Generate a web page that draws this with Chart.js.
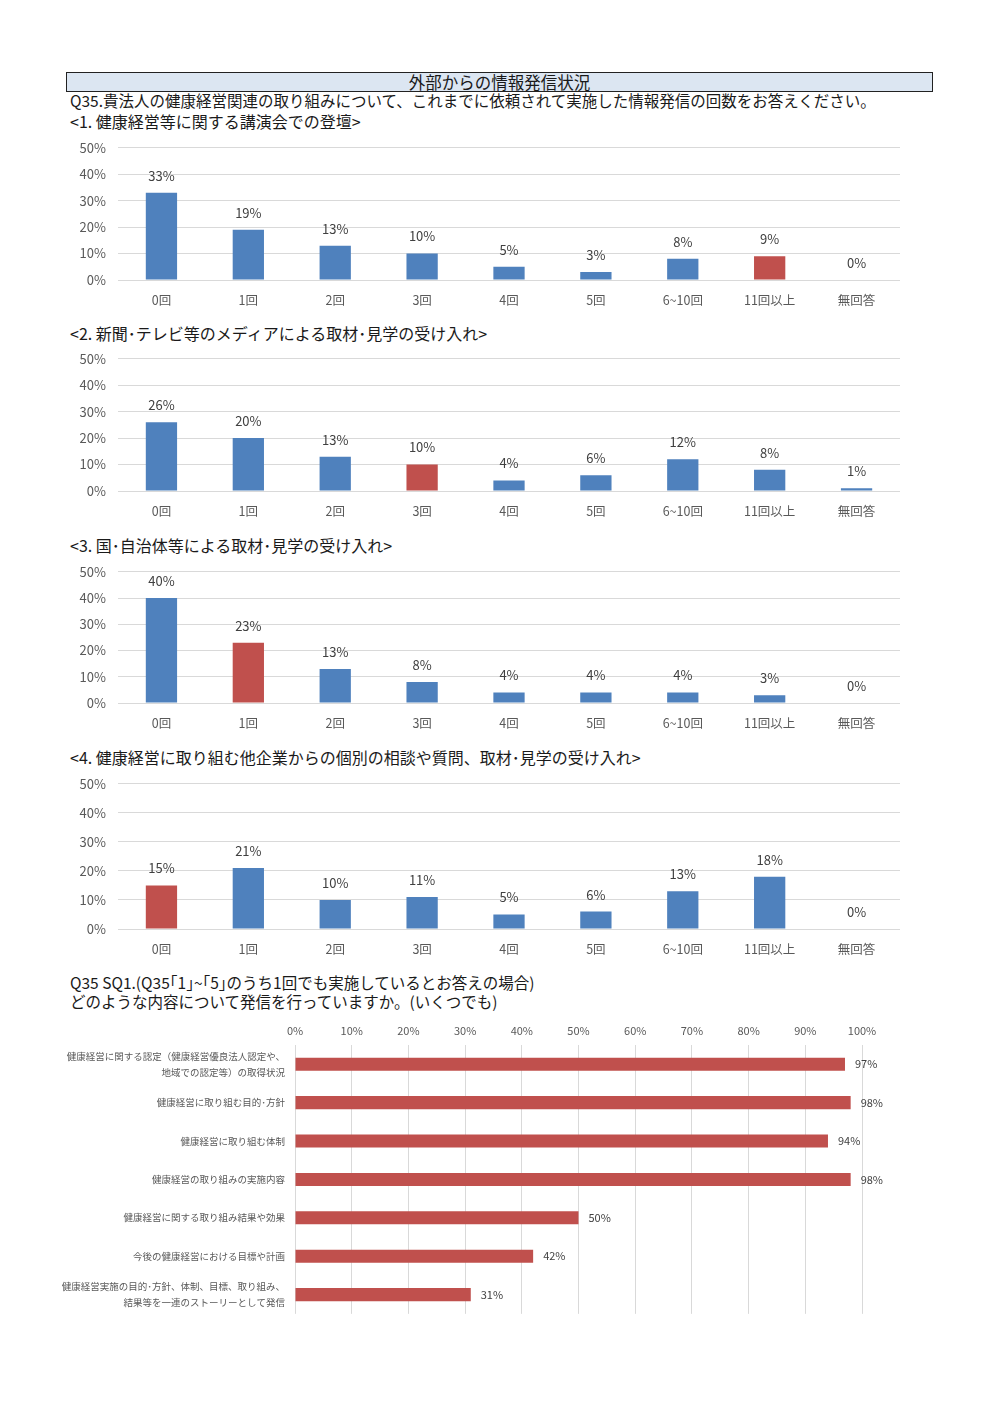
<!DOCTYPE html>
<html>
<head>
<meta charset="utf-8">
<script src="https://cdn.jsdelivr.net/npm/chart.js@4"></script>
<style>
  body { margin: 0; background: #fff; width: 1000px; height: 1414px; position: relative;
         font-family: "Noto Sans CJK JP", "Noto Sans", sans-serif; color: #1a1a1a; }
  .t { position: absolute; white-space: nowrap; line-height: 1; }
  canvas { position: absolute; }
  #head { position: absolute; left: 66px; top: 72px; width: 865px; height: 18px;
          border: 1px solid #222; background: #dce6f2; text-align: center;
          font-size: 16.5px; line-height: 18px; }
</style>
</head>
<body>
<div id="head">外部からの情報発信状況</div>
<div class="t" style="left:70px;top:93px;font-size:15.5px">Q35.貴法人の健康経営関連の取り組みについて、これまでに依頼されて実施した情報発信の回数をお答えください。</div>
<div class="t" style="left:70px;top:113px;font-size:16px">&lt;1. 健康経営等に関する講演会での登壇&gt;</div>
<canvas id="c1" width="850" height="182" style="left:60px;top:128px"></canvas>
<div class="t" style="left:70px;top:325px;font-size:16px">&lt;2. 新聞･テレビ等のメディアによる取材･見学の受け入れ&gt;</div>
<canvas id="c2" width="850" height="182" style="left:60px;top:339px"></canvas>
<div class="t" style="left:70px;top:537px;font-size:16px">&lt;3. 国･自治体等による取材･見学の受け入れ&gt;</div>
<canvas id="c3" width="850" height="181" style="left:60px;top:552px"></canvas>
<div class="t" style="left:70px;top:749px;font-size:16px">&lt;4. 健康経営に取り組む他企業からの個別の相談や質問、取材･見学の受け入れ&gt;</div>
<canvas id="c4" width="850" height="195" style="left:60px;top:764px"></canvas>
<div class="t" style="left:70px;top:975px;font-size:15.5px">Q35 SQ1.(Q35｢1｣~｢5｣のうち1回でも実施しているとお答えの場合)</div>
<div class="t" style="left:70px;top:994px;font-size:15.5px">どのような内容について発信を行っていますか。(いくつでも)</div>
<canvas id="c5" width="842" height="322" style="left:60px;top:1018px"></canvas>
<script>
const countLabels = ["0回", "1回", "2回", "3回", "4回", "5回", "6~10回", "11回以上", "無回答"];
const lectureValues = [33, 19, 13, 10, 5, 3, 8, 9, 0];
const mediaValues = [26, 20, 13, 10, 4, 6, 12, 8, 1];
const govValues = [40, 23, 13, 8, 4, 4, 4, 3, 0];
const peerValues = [15, 21, 10, 11, 5, 6, 13, 18, 0];
// index of the bar drawn in red in each chart
const highlightIndex = [7, 3, 1, 0];

const contentLabels = [
  ["健康経営に関する認定（健康経営優良法人認定や、", "地域での認定等）の取得状況"],
  "健康経営に取り組む目的･方針",
  "健康経営に取り組む体制",
  "健康経営の取り組みの実施内容",
  "健康経営に関する取り組み結果や効果",
  "今後の健康経営における目標や計画",
  ["健康経営実施の目的･方針、体制、目標、取り組み、", "結果等を一連のストーリーとして発信"]
];
const contentValues = [97, 98, 94, 98, 50, 42, 31];

const BLUE = "#4f81bd";
const RED = "#c0504d";
const GRID = "#d9d9d9";
const TICK = "#595959";
const FONT = '"Noto Sans CJK JP", "Noto Sans", sans-serif';

const valueLabels = {
  id: "valueLabels",
  afterDatasetsDraw(chart) {
    const ctx = chart.ctx;
    const meta = chart.getDatasetMeta(0);
    const horiz = chart.options.indexAxis === "y";
    ctx.save();
    ctx.fillStyle = "#404040";
    ctx.font = (horiz ? "11px " : "13px ") + FONT;
    ctx.textBaseline = "middle";
    meta.data.forEach((bar, i) => {
      const text = Math.round(chart.data.datasets[0].data[i]) + "%";
      if (horiz) {
        ctx.textAlign = "left";
        ctx.fillText(text, bar.x + 10, bar.y);
      } else {
        ctx.textAlign = "center";
        ctx.fillText(text, bar.x, bar.y - 17);
      }
    });
    ctx.restore();
  }
};

const countChart = (id, values, hi) => {
  new Chart(document.getElementById(id), {
    type: "bar",
    data: {
      labels: countLabels,
      datasets: [{
        data: values,
        backgroundColor: values.map((v, i) => (i === hi ? RED : BLUE)),
        barPercentage: 0.72,
        categoryPercentage: 0.5
      }]
    },
    options: {
      responsive: false,
      animation: false,
      layout: { padding: { top: 0, right: 10, bottom: 0, left: 0 } },
      plugins: { legend: { display: false }, tooltip: { enabled: false } },
      scales: {
        x: {
          grid: { display: false, drawTicks: false },
          border: { display: false },
          ticks: { color: TICK, font: { family: FONT, size: 12.5 }, padding: 13, maxRotation: 0 },
          afterFit: (s) => { s.height = 30; }
        },
        y: {
          min: 0, max: 50,
          grid: { color: GRID, drawTicks: false },
          border: { display: false },
          ticks: { stepSize: 10, color: TICK, font: { family: FONT, size: 13 }, padding: 12,
                   callback: (v) => v + "%" },
          afterFit: (s) => { s.width = 58; }
        }
      }
    },
    plugins: [valueLabels]
  });
};

countChart("c1", lectureValues, highlightIndex[0]);
countChart("c2", mediaValues, highlightIndex[1]);
countChart("c3", govValues, highlightIndex[2]);
countChart("c4", peerValues, highlightIndex[3]);

new Chart(document.getElementById("c5"), {
  type: "bar",
  data: {
    labels: contentLabels,
    datasets: [{
      data: contentValues,
      backgroundColor: RED,
      barPercentage: 0.68,
      categoryPercentage: 0.5
    }]
  },
  options: {
    indexAxis: "y",
    responsive: false,
    animation: false,
    layout: { padding: { top: 0, right: 40, bottom: 0, left: 0 } },
    plugins: { legend: { display: false }, tooltip: { enabled: false } },
    scales: {
      x: {
        position: "top",
        min: 0, max: 100,
        grid: { color: GRID, drawTicks: false },
        border: { display: false },
        ticks: { stepSize: 10, color: TICK, font: { family: FONT, size: 11 }, padding: 8,
                 callback: (v) => v + "%" },
        afterFit: (s) => { s.height = 27; }
      },
      y: {
        grid: { display: false, drawTicks: false },
        border: { display: false },
        ticks: { autoSkip: false, color: TICK, font: { family: FONT, size: 9.5, lineHeight: 1.7 }, padding: 10 },
        afterFit: (s) => { s.width = 235; }
      }
    }
  },
  plugins: [valueLabels]
});
</script>
</body>
</html>
